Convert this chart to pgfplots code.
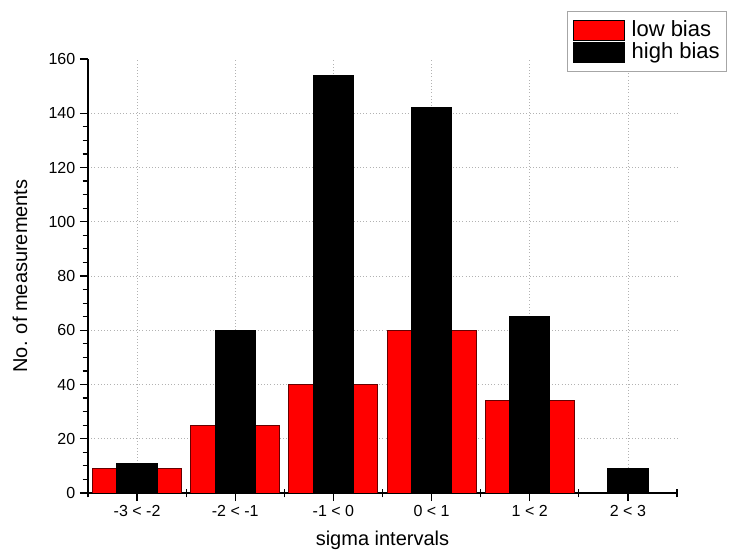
\documentclass[border=0pt]{standalone}
\usepackage{fontspec}
\setmainfont{Liberation Sans}
\usepackage{pgfplots}
\pgfplotsset{compat=1.18}
\begin{document}
\begin{tikzpicture}
\useasboundingbox (-66pt,-48pt) rectangle (480.75pt,369.75pt);
\begin{axis}[
 at={(0pt,0pt)}, anchor=south west,
 scale only axis, width=441.75pt, height=325.5pt,
 xmin=-0.5, xmax=5.5, ymin=0, ymax=160,
 axis lines*=left,
 axis line style={line width=1.1pt},
 /pgf/number format/assume math mode=true,
 tick label style={font=\fontsize{12}{14}\selectfont},
 xtick={0,...,5},
 xticklabels={-3 < -2, -2 < -1, -1 < 0, 0 < 1, 1 < 2, 2 < 3},
 ytick={0,20,...,140},
 extra y ticks={160},
 extra y tick style={grid=none},
 extra x ticks={-0.5,0.5,...,5.5},
 extra x tick labels={},
 extra x tick style={grid=none, major tick length=6.5pt, tick align=center},
 minor y tick num=3,
 tick align=outside,
 major tick length=6pt,
 minor tick length=4pt,
 tick style={black, line width=0.9pt},
 xmajorgrids, ymajorgrids,
 grid style={gray!60, dotted, line width=0.6pt},
 xlabel={sigma intervals},
 ylabel={No. of measurements},
 label style={font=\fontsize{15}{18}\selectfont},
 xlabel style={at={(axis description cs:0.5,-0.1083)}, anchor=center},
 ylabel style={at={(axis description cs:-0.1155,0.5)}, anchor=center},
 legend style={at={(axis description cs:1,1)}, anchor=north west,
   xshift=-82.5pt, yshift=36pt, draw=gray!70, line width=0.8pt,
   font=\fontsize{16.5}{17}\selectfont, row sep=0pt, column sep=4.5pt,
   inner xsep=4pt, inner ysep=6pt,
   nodes={inner ysep=0.25pt, inner xsep=1pt, text height=12.5pt, text depth=3.5pt}},
 legend cell align=left,
 legend image code/.code={\draw[#1, draw=black, line width=0.6pt] (0pt,-7.5pt) rectangle (38pt,7.5pt);},
]
\addplot[ybar, bar width=0.906, bar shift=0pt, fill=red, draw=black!60!red, line width=0.7pt]
 coordinates {(0,9) (1,25) (2,40) (3,60) (4,34)};
\addplot[ybar, bar width=0.41, bar shift=0pt, fill=black, draw=black, line width=0.7pt]
 coordinates {(0,11) (1,60) (2,154) (3,142) (4,65) (5,9)};
\legend{low bias, high bias}
\end{axis}
\end{tikzpicture}
\end{document}
